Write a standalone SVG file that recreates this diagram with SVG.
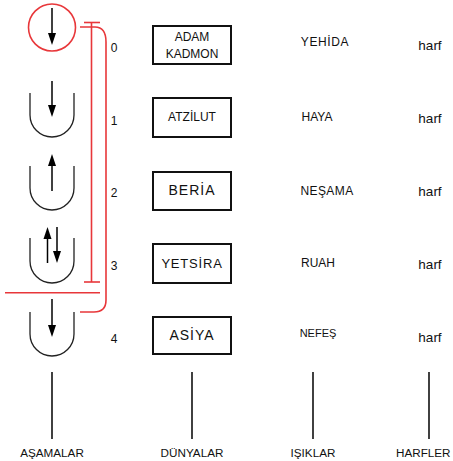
<svg xmlns="http://www.w3.org/2000/svg" width="453" height="461" viewBox="0 0 453 461">
<style>
text{font-family:"Liberation Sans",Arial,sans-serif;fill:#111;text-anchor:middle;dominant-baseline:central}
.cup{fill:none;stroke:#222;stroke-width:1.3}
.arr{stroke:#000;stroke-width:1.5}
.head{fill:#000}
.box{fill:#fff;stroke:#111;stroke-width:2}
.red{fill:none;stroke:#e8373a;stroke-width:1.6}
.axis{stroke:#111;stroke-width:1.6}
.num{font-size:12px}
.w{font-size:12px}
.l{font-size:12px}
.h{font-size:14px}
.b{font-size:11.7px}
</style>
<g id="stage0">
<circle cx="52" cy="27.5" r="23.5" class="red"/>
<line x1="52" y1="8" x2="52" y2="36" class="arr"/>
<polygon points="48,33 56,33 52,45" class="head"/>
</g>
<g id="stage1">
<path d="M30,93 V115 A22,22 0 0 0 74,115 V93" class="cup"/>
<line x1="52" y1="81" x2="52" y2="108" class="arr"/>
<polygon points="48,105 56,105 52,117" class="head"/>
</g>
<g id="stage2">
<path d="M30,166 V188 A22,22 0 0 0 74,188 V166" class="cup"/>
<line x1="52" y1="191" x2="52" y2="163" class="arr"/>
<polygon points="48,166 56,166 52,154" class="head"/>
</g>
<g id="stage3">
<path d="M30,238 V261 A22,22 0 0 0 74,261 V238" class="cup"/>
<line x1="47.5" y1="263" x2="47.5" y2="236" class="arr"/>
<polygon points="43.5,239 51.5,239 47.5,227" class="head"/>
<line x1="57" y1="227" x2="57" y2="254" class="arr"/>
<polygon points="53,251 61,251 57,263" class="head"/>
</g>
<g id="stage4">
<path d="M30,312 V334 A22,22 0 0 0 74,334 V312" class="cup"/>
<line x1="52" y1="299" x2="52" y2="328" class="arr"/>
<polygon points="48,325 56,325 52,337" class="head"/>
</g>
<g id="connectors">
<line x1="84" y1="22.5" x2="100" y2="22.5" class="red"/>
<line x1="91.5" y1="22.5" x2="91.5" y2="282" class="red"/>
<line x1="84" y1="282" x2="100" y2="282" class="red"/>
<line x1="5" y1="292.7" x2="100" y2="292.7" class="red"/>
<path d="M80,27 H95 Q106,27 106,42 V300 Q106,312 94,312 H80" class="red"/>
<line x1="52" y1="372" x2="52" y2="439" class="axis"/>
<line x1="192" y1="372" x2="192" y2="439" class="axis"/>
<line x1="313" y1="372" x2="313" y2="439" class="axis"/>
<line x1="429" y1="372" x2="429" y2="439" class="axis"/>
</g>
<g id="numbers">
<text x="114" y="48" class="num">0</text>
<text x="114" y="121" class="num">1</text>
<text x="114" y="193" class="num">2</text>
<text x="114" y="266" class="num">3</text>
<text x="114" y="339" class="num">4</text>
</g>
<g id="world0">
<rect x="153" y="26" width="78" height="38" class="box"/>
<text x="192" y="37" class="w">ADAM</text>
<text x="192" y="54" class="w">KADMON</text>
</g>
<g id="world1">
<rect x="153" y="98" width="78" height="39" class="box"/>
<text x="192" y="117" class="w">ATZİLUT</text>
</g>
<g id="world2">
<rect x="153" y="172" width="78" height="38" class="box"/>
<text x="192" y="190" class="h" letter-spacing="1">BERİA</text>
</g>
<g id="world3">
<rect x="153" y="244" width="78" height="39" class="box"/>
<text x="192" y="263" style="font-size:13px" letter-spacing="0.8">YETSİRA</text>
</g>
<g id="world4">
<rect x="153" y="317" width="78" height="37" class="box"/>
<text x="192" y="335" class="h" letter-spacing="1">ASİYA</text>
</g>
<g id="lights">
<text x="325" y="42" class="l" letter-spacing="0.6">YEHİDA</text>
<text x="317" y="117" class="l">HAYA</text>
<text x="327" y="191" class="l" letter-spacing="0.4">NEŞAMA</text>
<text x="318" y="263" class="l">RUAH</text>
<text x="318" y="333" style="font-size:11px">NEFEŞ</text>
</g>
<g id="letters">
<text x="430" y="45" style="font-size:13.5px">harf</text>
<text x="430" y="118" style="font-size:13.5px">harf</text>
<text x="430" y="191" style="font-size:13.5px">harf</text>
<text x="430" y="264" style="font-size:13.5px">harf</text>
<text x="430" y="337" style="font-size:13.5px">harf</text>
</g>
<g id="labels">
<text x="52" y="452" class="b">AŞAMALAR</text>
<text x="192" y="452" class="b">DÜNYALAR</text>
<text x="313" y="452" class="b">IŞIKLAR</text>
<text x="396" y="452" class="b" style="text-anchor:start">HARFLER</text>
</g>
</svg>
